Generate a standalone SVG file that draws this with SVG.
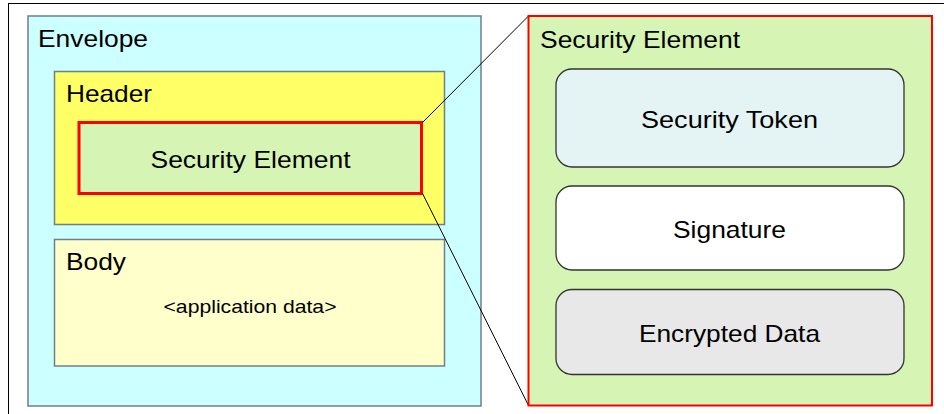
<svg xmlns="http://www.w3.org/2000/svg" width="944" height="414" viewBox="0 0 944 414">
<style>
text{font-family:"Liberation Sans",Arial,sans-serif;fill:#000;}
.big{font-size:24px;}
.small{font-size:19px;}
.frame{fill:#fff;stroke:#000;stroke-width:1;}
.box{stroke:#6f7f88;stroke-width:1.5;}
.rbox{stroke:#333;stroke-width:1.3;}
.conn{stroke:#000;stroke-width:1;fill:none;}
</style>
<rect class="frame" x="8.5" y="3.5" width="1000" height="1000"/>
<g id="envelope">
<rect class="box" x="28" y="16" width="453" height="390" fill="#CCFFFF"/>
<text class="big" x="38" y="47" textLength="110" lengthAdjust="spacingAndGlyphs">Envelope</text>
</g>
<g id="header">
<rect class="box" x="54.5" y="71.5" width="390" height="153" fill="#FFFF66" stroke="#555"/>
<text class="big" x="66" y="102" textLength="86" lengthAdjust="spacingAndGlyphs">Header</text>
</g>
<g id="security-element-small">
<rect x="79" y="122.5" width="342.5" height="71" fill="#D6F5B5" stroke="#FF0000" stroke-width="3"/>
<text class="big" x="250.5" y="168" text-anchor="middle" textLength="200" lengthAdjust="spacingAndGlyphs">Security Element</text>
</g>
<g id="body">
<rect class="box" x="54.5" y="239.5" width="390" height="126.5" fill="#FFFFCC" stroke="#555"/>
<text class="big" x="66" y="270" textLength="60" lengthAdjust="spacingAndGlyphs">Body</text>
<text class="small" x="250" y="313" text-anchor="middle" textLength="173" lengthAdjust="spacingAndGlyphs">&lt;application data&gt;</text>
</g>
<g id="connectors">
<line class="conn" x1="422.5" y1="122.5" x2="528.5" y2="16"/>
<line class="conn" x1="422.5" y1="193.5" x2="528.5" y2="405.5"/>
</g>
<g id="security-element-detail">
<rect x="528.5" y="16" width="403.5" height="389.5" fill="#D6F5B5" stroke="#FF0000" stroke-width="2"/>
<text class="big" x="540" y="48" textLength="200" lengthAdjust="spacingAndGlyphs">Security Element</text>
</g>
<g id="security-token">
<rect class="rbox" x="556" y="69" width="348" height="98" rx="16" fill="#E4F4F4"/>
<text class="big" x="729.5" y="128" text-anchor="middle" textLength="177" lengthAdjust="spacingAndGlyphs">Security Token</text>
</g>
<g id="signature">
<rect class="rbox" x="556" y="186" width="348" height="84" rx="16" fill="#FFFFFF"/>
<text class="big" x="729.5" y="237.5" text-anchor="middle" textLength="113" lengthAdjust="spacingAndGlyphs">Signature</text>
</g>
<g id="encrypted-data">
<rect class="rbox" x="556" y="289.5" width="348" height="85" rx="16" fill="#E8E8E8"/>
<text class="big" x="729.5" y="341.5" text-anchor="middle" textLength="181" lengthAdjust="spacingAndGlyphs">Encrypted Data</text>
</g>
</svg>
